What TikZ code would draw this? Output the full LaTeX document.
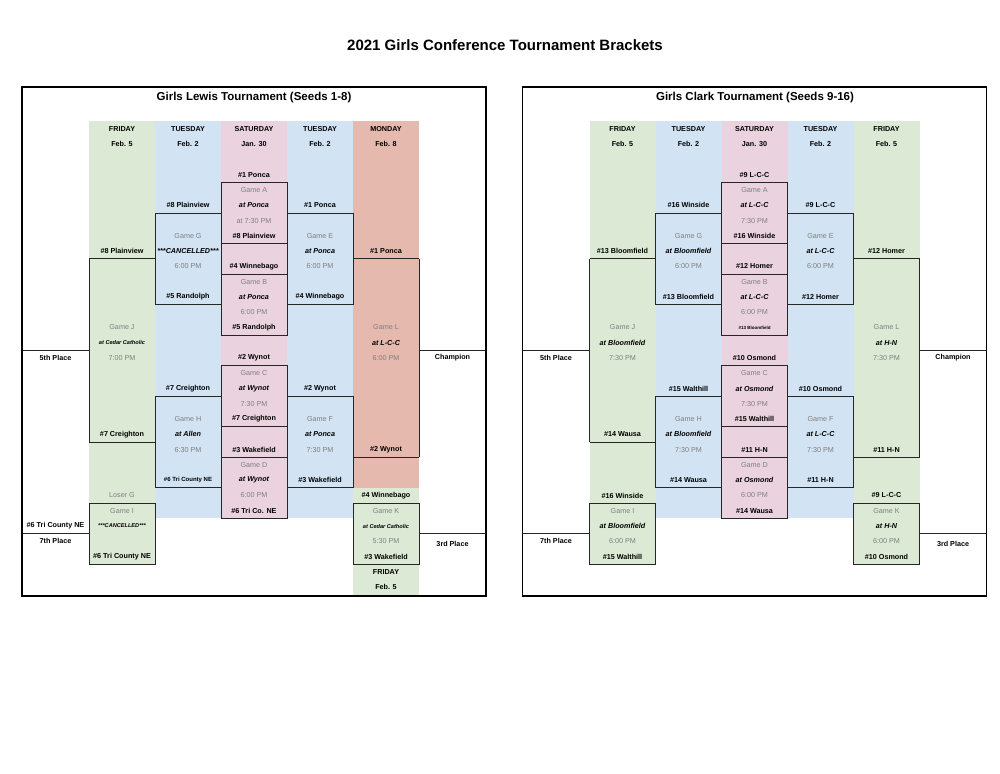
\documentclass[tikz,border=0pt]{standalone}
\usepackage{fontspec}
\setmainfont{Liberation Sans}
\definecolor{cgreen}{HTML}{DCEAD5}
\definecolor{cblue}{HTML}{D2E3F3}
\definecolor{cpink}{HTML}{EAD3DE}
\definecolor{csalmon}{HTML}{E6B9AE}
\definecolor{cgray}{HTML}{7F7F7F}
\def\cxs{{55.5,122,188,254,320,386,452.5}}
\def\exs{{22,89,155,221,287,353,419,486}}
\def\bx{0}
\newcommand\tx[4]{\pgfmathsetmacro\xx{\bx+\cxs[#2]}\pgfmathsetmacro\yy{129+15.27*#3}\node[#1] at (\xx,\yy) {#4};}
\newcommand\rect[5]{\pgfmathsetmacro\xa{\bx+\exs[#2]}\pgfmathsetmacro\xb{\bx+\exs[#4]}\pgfmathsetmacro\ya{121.37+15.27*#3}\pgfmathsetmacro\yb{121.37+15.27*#5}\path[#1] (\xa,\ya) rectangle (\xb,\yb);}
\newcommand\hl[3]{\pgfmathsetmacro\xa{\bx+\exs[#1]}\pgfmathsetmacro\xb{\bx+\exs[#2]}\pgfmathsetmacro\ya{121.37+15.27*#3}\draw[ln] (\xa,\ya) -- (\xb,\ya);}
\newcommand\vl[3]{\pgfmathsetmacro\xa{\bx+\exs[#1]}\pgfmathsetmacro\ya{121.37+15.27*#2}\pgfmathsetmacro\yb{121.37+15.27*#3}\draw[ln] (\xa,\ya) -- (\xa,\yb);}
\newcommand\boxes{%
\rect{ln,draw}{3}{4}{4}{8}\rect{ln,draw}{2}{6}{3}{12}\rect{ln,draw}{4}{6}{5}{12}
\rect{ln,draw}{3}{10}{4}{14}\rect{ln,draw}{3}{16}{4}{20}\rect{ln,draw}{2}{18}{3}{24}
\rect{ln,draw}{4}{18}{5}{24}\rect{ln,draw}{3}{22}{4}{26}\rect{ln,draw}{1}{25}{2}{29}
\rect{ln,draw}{5}{25}{6}{29}
\hl{1}{2}{9}\hl{1}{2}{21}\vl{1}{9}{21}
\hl{5}{6}{9}\hl{5}{6}{22}\vl{6}{9}{22}
\hl{0}{1}{15}\hl{6}{7}{15}\hl{0}{1}{27}\hl{6}{7}{27}
\draw[line width=1.4pt] (\bx+22,87) rectangle (\bx+486,596);}
\begin{document}
\begin{tikzpicture}[x=1pt,y=-1pt,
  ln/.style={line width=0.9pt,draw=black!85},
  b/.style={font=\fontsize{7.2}{8}\selectfont\bfseries,inner sep=0pt},
  g/.style={font=\fontsize{7.2}{8}\selectfont,text=cgray,inner sep=0pt},
  bi/.style={font=\fontsize{7.2}{8}\selectfont\bfseries\itshape,inner sep=0pt},
  sb/.style={font=\fontsize{6}{7}\selectfont\bfseries,inner sep=0pt},
  sbi/.style={font=\fontsize{5.6}{7}\selectfont\bfseries\itshape,inner sep=0pt},
  tb/.style={font=\fontsize{4.5}{5}\selectfont\bfseries,inner sep=0pt}]
\fill[white] (0,0) rectangle (1000,773);
\useasboundingbox (0,0) rectangle (1000,773);
\node[font=\fontsize{15}{17}\selectfont\bfseries] (title) at (505,45) {2021 Girls Conference Tournament Brackets};
% ---------- LEFT ----------
\def\bx{0}
\rect{fill=cgreen}{1}{0}{2}{29}\rect{fill=cblue}{2}{0}{3}{26}\rect{fill=cpink}{3}{0}{4}{26}
\rect{fill=cblue}{4}{0}{5}{26}\rect{fill=csalmon}{5}{0}{6}{24}\rect{fill=cgreen}{5}{24}{6}{31}
\boxes
\node[font=\fontsize{11.5}{13}\selectfont\bfseries] (lt) at (254,98) {Girls Lewis Tournament (Seeds 1-8)};
\tx{b}{1}{0}{FRIDAY}\tx{b}{2}{0}{TUESDAY}\tx{b}{3}{0}{SATURDAY}\tx{b}{4}{0}{TUESDAY}\tx{b}{5}{0}{MONDAY}
\tx{b}{1}{1}{Feb. 5}\tx{b}{2}{1}{Feb. 2}\tx{b}{3}{1}{Jan. 30}\tx{b}{4}{1}{Feb. 2}\tx{b}{5}{1}{Feb. 8}
\tx{b}{3}{3}{\#1 Ponca}
\tx{g}{3}{4}{Game A}
\tx{b}{2}{5}{\#8 Plainview}\tx{bi}{3}{5}{at Ponca}\tx{b}{4}{5}{\#1 Ponca}
\tx{g}{3}{6}{at 7:30 PM}
\tx{g}{2}{7}{Game G}\tx{b}{3}{7}{\#8 Plainview}\tx{g}{4}{7}{Game E}
\tx{b}{1}{8}{\#8 Plainview}\tx{bi}{2}{8}{***CANCELLED***}\tx{bi}{4}{8}{at Ponca}\tx{b}{5}{8}{\#1 Ponca}
\tx{g}{2}{9}{6:00 PM}\tx{b}{3}{9}{\#4 Winnebago}\tx{g}{4}{9}{6:00 PM}
\tx{g}{3}{10}{Game B}
\tx{b}{2}{11}{\#5 Randolph}\tx{bi}{3}{11}{at Ponca}\tx{b}{4}{11}{\#4 Winnebago}
\tx{g}{3}{12}{6:00 PM}
\tx{g}{1}{13}{Game J}\tx{b}{3}{13}{\#5 Randolph}\tx{g}{5}{13}{Game L}
\tx{sbi}{1}{14}{at Cedar Catholic}\tx{bi}{5}{14}{at L-C-C}
\tx{b}{0}{15}{5th Place}\tx{g}{1}{15}{7:00 PM}\tx{b}{3}{15}{\#2 Wynot}\tx{g}{5}{15}{6:00 PM}\tx{b}{6}{15}{Champion}
\tx{g}{3}{16}{Game C}
\tx{b}{2}{17}{\#7 Creighton}\tx{bi}{3}{17}{at Wynot}\tx{b}{4}{17}{\#2 Wynot}
\tx{g}{3}{18}{7:30 PM}
\tx{g}{2}{19}{Game H}\tx{b}{3}{19}{\#7 Creighton}\tx{g}{4}{19}{Game F}
\tx{b}{1}{20}{\#7 Creighton}\tx{bi}{2}{20}{at Allen}\tx{bi}{4}{20}{at Ponca}
\tx{g}{2}{21}{6:30 PM}\tx{b}{3}{21}{\#3 Wakefield}\tx{g}{4}{21}{7:30 PM}\tx{b}{5}{21}{\#2 Wynot}
\tx{g}{3}{22}{Game D}
\tx{sb}{2}{23}{\#6 Tri County NE}\tx{bi}{3}{23}{at Wynot}\tx{b}{4}{23}{\#3 Wakefield}
\tx{g}{1}{24}{Loser G}\tx{g}{3}{24}{6:00 PM}\tx{b}{5}{24}{\#4 Winnebago}
\tx{g}{1}{25}{Game I}\tx{b}{3}{25}{\#6 Tri Co. NE}\tx{g}{5}{25}{Game K}
\tx{b}{0}{26}{\#6 Tri County NE}\tx{sbi}{1}{26}{***CANCELLED***}\tx{sbi}{5}{26}{at Cedar Catholic}
\tx{b}{0}{27}{7th Place}\tx{g}{5}{27}{5:30 PM}\tx{b}{6}{27.2}{3rd Place}
\tx{b}{1}{28}{\#6 Tri County NE}\tx{b}{5}{28}{\#3 Wakefield}
\tx{b}{5}{29}{FRIDAY}\tx{b}{5}{30}{Feb. 5}
% ---------- RIGHT ----------
\def\bx{500.5}
\rect{fill=cgreen}{1}{0}{2}{29}\rect{fill=cblue}{2}{0}{3}{26}\rect{fill=cpink}{3}{0}{4}{26}
\rect{fill=cblue}{4}{0}{5}{26}\rect{fill=cgreen}{5}{0}{6}{29}
\boxes
\node[font=\fontsize{11.5}{13}\selectfont\bfseries] (rt) at (755,98) {Girls Clark Tournament (Seeds 9-16)};
\tx{b}{1}{0}{FRIDAY}\tx{b}{2}{0}{TUESDAY}\tx{b}{3}{0}{SATURDAY}\tx{b}{4}{0}{TUESDAY}\tx{b}{5}{0}{FRIDAY}
\tx{b}{1}{1}{Feb. 5}\tx{b}{2}{1}{Feb. 2}\tx{b}{3}{1}{Jan. 30}\tx{b}{4}{1}{Feb. 2}\tx{b}{5}{1}{Feb. 5}
\tx{b}{3}{3}{\#9 L-C-C}
\tx{g}{3}{4}{Game A}
\tx{b}{2}{5}{\#16 Winside}\tx{bi}{3}{5}{at L-C-C}\tx{b}{4}{5}{\#9 L-C-C}
\tx{g}{3}{6}{7:30 PM}
\tx{g}{2}{7}{Game G}\tx{b}{3}{7}{\#16 Winside}\tx{g}{4}{7}{Game E}
\tx{b}{1}{8}{\#13 Bloomfield}\tx{bi}{2}{8}{at Bloomfield}\tx{bi}{4}{8}{at L-C-C}\tx{b}{5}{8}{\#12 Homer}
\tx{g}{2}{9}{6:00 PM}\tx{b}{3}{9}{\#12 Homer}\tx{g}{4}{9}{6:00 PM}
\tx{g}{3}{10}{Game B}
\tx{b}{2}{11}{\#13 Bloomfield}\tx{bi}{3}{11}{at L-C-C}\tx{b}{4}{11}{\#12 Homer}
\tx{g}{3}{12}{6:00 PM}
\tx{g}{1}{13}{Game J}\tx{tb}{3}{13}{\#13 Bloomfield}\tx{g}{5}{13}{Game L}
\tx{bi}{1}{14}{at Bloomfield}\tx{bi}{5}{14}{at H-N}
\tx{b}{0}{15}{5th Place}\tx{g}{1}{15}{7:30 PM}\tx{b}{3}{15}{\#10 Osmond}\tx{g}{5}{15}{7:30 PM}\tx{b}{6}{15}{Champion}
\tx{g}{3}{16}{Game C}
\tx{b}{2}{17}{\#15 Walthill}\tx{bi}{3}{17}{at Osmond}\tx{b}{4}{17}{\#10 Osmond}
\tx{g}{3}{18}{7:30 PM}
\tx{g}{2}{19}{Game H}\tx{b}{3}{19}{\#15 Walthill}\tx{g}{4}{19}{Game F}
\tx{b}{1}{20}{\#14 Wausa}\tx{bi}{2}{20}{at Bloomfield}\tx{bi}{4}{20}{at L-C-C}
\tx{g}{2}{21}{7:30 PM}\tx{b}{3}{21}{\#11 H-N}\tx{g}{4}{21}{7:30 PM}\tx{b}{5}{21}{\#11 H-N}
\tx{g}{3}{22}{Game D}
\tx{b}{2}{23}{\#14 Wausa}\tx{bi}{3}{23}{at Osmond}\tx{b}{4}{23}{\#11 H-N}
\tx{b}{1}{24}{\#16 Winside}\tx{g}{3}{24}{6:00 PM}\tx{b}{5}{24}{\#9 L-C-C}
\tx{g}{1}{25}{Game I}\tx{b}{3}{25}{\#14 Wausa}\tx{g}{5}{25}{Game K}
\tx{bi}{1}{26}{at Bloomfield}\tx{bi}{5}{26}{at H-N}
\tx{b}{0}{27}{7th Place}\tx{g}{1}{27}{6:00 PM}\tx{g}{5}{27}{6:00 PM}\tx{b}{6}{27.2}{3rd Place}
\tx{b}{1}{28}{\#15 Walthill}\tx{b}{5}{28}{\#10 Osmond}
\end{tikzpicture}
\end{document}
